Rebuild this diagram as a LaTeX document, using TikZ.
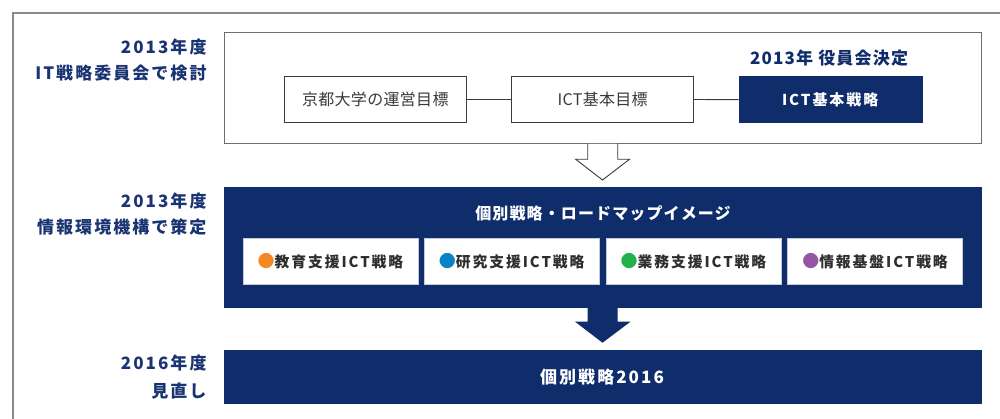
\documentclass[tikz,border=0pt]{standalone}
\usepackage{fontspec}
\newfontfamily\jp[LetterSpace=12]{Noto Sans CJK JP}
\newfontfamily\jpm[LetterSpace=7]{Noto Sans CJK JP}
\newfontfamily\jps[LetterSpace=13]{Noto Sans CJK JP}
\newfontfamily\jpl[LetterSpace=2]{Noto Sans CJK JP}
\definecolor{navy}{HTML}{0F2C6B}
\definecolor{labnavy}{HTML}{1A3473}
\definecolor{framegray}{HTML}{8A8A8A}
\definecolor{boxgray}{HTML}{6E6E6E}
\definecolor{txtgray}{HTML}{3A3A3A}
\definecolor{dotorange}{HTML}{F58A25}
\definecolor{dotblue}{HTML}{0B82C6}
\definecolor{dotgreen}{HTML}{22B14C}
\definecolor{dotpurple}{HTML}{9555A3}
\newcommand{\bigdot}[1]{{\color{#1}\fontsize{17}{17}\selectfont ●}}
\tikzset{
  yearlab/.style={anchor=east, inner sep=0pt, text=labnavy, font=\jp\bfseries\fontsize{17}{17}\selectfont},
  whitebox/.style={draw=txtgray, line width=0.9pt, fill=white, minimum width=182pt, minimum height=45.7pt, inner sep=0pt, text=txtgray, font=\jpl\fontsize{16}{16}\selectfont},
  navybox/.style={draw=navy, fill=navy, inner sep=0pt},
  stratbox/.style={draw=navy!25, line width=0.6pt, fill=white, minimum width=175pt, minimum height=46.4pt, inner sep=0pt, text=txtgray!80!black, font=\jps\bfseries\fontsize{14.8}{14.8}\selectfont},
  navytext/.style={text=white, inner sep=0pt, font=\jps\bfseries\fontsize{15}{15}\selectfont},
}
\begin{document}
\begin{tikzpicture}[x=1pt,y=-1pt]
\useasboundingbox (0,0) rectangle (1000,419);
% outer frame (clipped on right and bottom)
\draw[framegray, line width=1.2pt] (13,425) -- (13,13) -- (1005,13);

% top box
\node[draw=boxgray, line width=1pt, minimum width=756.7pt, minimum height=111.3pt, inner sep=0pt] (top) at (602.7,88.3) {};
\node[whitebox] (b1) at (375.3,99.5) {京都大学の運営目標};
\node[whitebox] (b2) at (602.7,99.5) {ICT基本目標};
\node[navybox, minimum width=183pt, minimum height=46pt, navytext] (b3) at (830.2,99.7) {ICT基本戦略};
\draw[txtgray, line width=0.9pt] (b1.east) -- (b2.west);
\draw[txtgray, line width=0.9pt] (b2.east) -- (b3.west);
\node[inner sep=0pt, text=navy, font=\jpm\bfseries\fontsize{17}{17}\selectfont] (dec) at (829,58.5) {2013年 役員会決定};

% hollow arrow
\coordinate (ha1) at (587.7,144);
\coordinate (ha2) at (617.7,144);
\draw[txtgray, line width=0.9pt, fill=white] (ha1) -- (587.7,159.3) -- (575.7,159.3) -- (602.5,180) -- (629.5,159.3) -- (617.7,159.3) -- (ha2);

% navy box 2
\node[navybox, minimum width=756.7pt, minimum height=119.4pt] (mid) at (602.7,247) {};
\node[navytext, font=\jpm\bfseries\fontsize{16}{16}\selectfont] (midt) at (603,213) {個別戦略・ロードマップイメージ};
\node[stratbox] (s1) at (330.5,261.5) {\bigdot{dotorange}教育支援ICT戦略};
\node[stratbox] (s2) at (511.7,261.5) {\bigdot{dotblue}研究支援ICT戦略};
\node[stratbox] (s3) at (693.5,261.5) {\bigdot{dotgreen}業務支援ICT戦略};
\node[stratbox] (s4) at (875,261.5) {\bigdot{dotpurple}情報基盤ICT戦略};

% solid arrow
\fill[navy] (587.7,306) -- (587.7,321.7) -- (575,321.7) -- (602.5,342.7) -- (630.5,321.7) -- (617.7,321.7) -- (617.7,306) -- cycle;

% navy box 3
\node[navybox, minimum width=756.7pt, minimum height=53.7pt] (bot) at (602.7,376.8) {};
\node[navytext, font=\jp\bfseries\fontsize{17}{17}\selectfont] (bott) at (602,377) {個別戦略2016};

% left labels
\node[yearlab] (l1a) at (206.7,46.7) {2013年度};
\node[yearlab] (l1b) at (206.7,72.7) {IT戦略委員会で検討};
\node[yearlab] (l2a) at (206.7,201.5) {2013年度};
\node[yearlab] (l2b) at (206.7,227.3) {情報環境機構で策定};
\node[yearlab] (l3a) at (206.7,363.3) {2016年度};
\node[yearlab] (l3b) at (206.7,390.7) {見直し};
\end{tikzpicture}
\end{document}
